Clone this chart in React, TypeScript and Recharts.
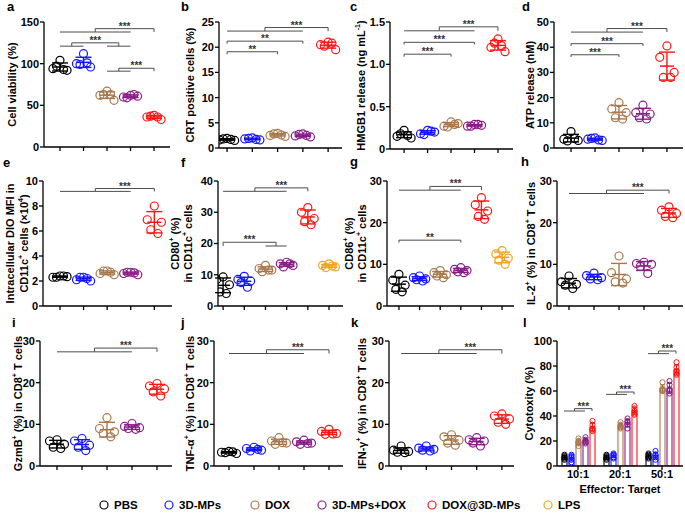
import React from 'react';
import {
  ComposedChart,
  Scatter,
  Bar,
  XAxis,
  YAxis,
  ErrorBar,
  ReferenceLine,
  ReferenceDot,
} from 'recharts';

const FONT = '"Liberation Sans", Arial, Helvetica, sans-serif';

const groupNames = ['PBS', '3D-MPs', 'DOX', '3D-MPs+DOX', 'DOX@3D-MPs', 'LPS'];
const groupColors = ['#000000', '#1414ff', '#a8784c', '#8a1c8a', '#ff1414', '#f5a21e'];

// a: cell viability (%)
const viability = [
  [104, 94, 92, 97, 93],
  [112, 100, 96, 99, 101],
  [67, 62, 56, 63, 63],
  [62, 60, 61, 59, 63],
  [38, 36, 33, 37, 36],
];
// b: CRT positive cells (%)
const crt = [
  [1.9, 1.6, 1.5, 1.8, 1.7],
  [2.0, 1.8, 1.6, 1.9, 1.7],
  [2.9, 2.5, 2.3, 2.8, 2.6],
  [2.8, 2.4, 2.2, 2.7, 2.5],
  [21.0, 20.5, 19.5, 20.2, 20.8],
];
// c: HMGB1 release (ng/mL)
const hmgb1 = [
  [0.22, 0.15, 0.13, 0.18, 0.16],
  [0.22, 0.18, 0.2, 0.17, 0.21],
  [0.32, 0.27, 0.3, 0.26, 0.29],
  [0.29, 0.27, 0.28, 0.27, 0.29],
  [1.3, 1.2, 1.15, 1.25, 1.22],
];
// d: ATP release (nM)
const atp = [
  [6.5, 3.5, 3.0, 2.8, 3.8],
  [4.0, 3.5, 3.0, 3.8, 3.2],
  [18, 15.5, 14, 12, 11.5],
  [17, 14, 13.5, 12, 11.5],
  [40.5, 36, 30, 28, 28],
];
// e: intracellular DIO MFI (x10^4)
const dioMfi = [
  [2.4, 2.3, 2.35, 2.3, 2.4],
  [2.3, 2.1, 2.0, 2.3, 2.2],
  [2.8, 2.6, 2.5, 2.8, 2.7],
  [2.7, 2.6, 2.5, 2.7, 2.65],
  [8.0, 6.9, 6.7, 6.1, 5.8],
];
// f: CD80+ in CD11c+ cells (%)
const cd80 = [
  [9.3, 8.5, 6.8, 4.5, 4.0],
  [9.5, 8.5, 8.0, 7.5, 6.0],
  [13, 12, 11.5, 11, 11.5],
  [14, 13.5, 13, 12.5, 13.5],
  [31.5, 30, 28, 27, 26],
  [13.5, 13, 12.5, 12.3, 12.8],
];
// g: CD86+ in CD11c+ cells (%)
const cd86 = [
  [7.6, 6.2, 5.0, 4.0, 3.4],
  [7.2, 6.8, 6.5, 6.3, 6.0],
  [8.5, 8.0, 7.5, 7.2, 6.8],
  [9.2, 8.8, 8.5, 8.2, 8.0],
  [26, 24.3, 22.8, 21.5, 20.8],
  [13.3, 12.5, 11.5, 11.0, 10.0],
];
// h: IL-2+ in CD8+ T cells (%)
const il2 = [
  [7.2, 5.8, 5.2, 5.0, 4.2],
  [7.9, 7.3, 6.8, 6.5, 6.3],
  [12, 8, 6.5, 5.8, 5.5],
  [10.5, 10.2, 10, 9.5, 7.8],
  [23.8, 23, 22.2, 21.5, 21.2],
];
// i: GzmB+ in CD8+ T cells (%)
const gzmb = [
  [6.3, 6.0, 5.2, 4.5, 4.2],
  [6.6, 6.0, 5.0, 4.5, 3.7],
  [11.6, 9, 8.2, 7.8, 7.0],
  [10.2, 9.5, 9.2, 9.0, 8.8],
  [19.8, 19.2, 18.5, 17.8, 16.8],
];
// j: TNF-a+ in CD8+ T cells (%)
const tnfa = [
  [3.5, 3.3, 3.0, 3.2, 3.4],
  [4.5, 4.2, 3.8, 3.6, 4.0],
  [6.8, 6.0, 5.5, 5.2, 5.6],
  [6.2, 5.8, 5.5, 5.2, 5.4],
  [8.8, 8.3, 7.8, 7.6, 7.7],
];
// k: IFN-g+ in CD8+ T cells (%)
const ifng = [
  [4.8, 3.8, 3.5, 3.3, 3.2],
  [4.8, 4.3, 4.0, 3.8, 3.6],
  [7.5, 7.0, 6.2, 5.5, 5.0],
  [6.8, 6.3, 6.0, 5.5, 4.8],
  [12.5, 12.0, 11.3, 10.5, 10.0],
];
// l: cytotoxicity (%) per effector:target ratio
const cytoRatios = ['10:1', '20:1', '50:1'];
const cytoPBS = [[9, 7, 5, 6, 8], [9, 7, 5, 6, 8], [10, 9, 7, 6, 8]];
const cyto3DMPs = [[9, 7, 3, 5, 8], [10, 9, 7, 6, 9], [12, 9, 7, 5, 9]];
const cytoDOX = [[22, 20, 18, 16, 19], [35, 33, 31, 30, 32], [67, 62, 60, 60, 61]];
const cytoCombo = [[23, 21, 19, 18, 20], [38, 36, 33, 30, 35], [68, 65, 61, 58, 60]];
const cytoDOX3D = [[36, 33, 30, 29, 28], [48, 46, 44, 42, 41], [83, 79, 76, 74, 73]];
const cytoGroups = [cytoPBS, cyto3DMPs, cytoDOX, cytoCombo, cytoDOX3D];

type Bracket = { l: [number, number]; r: [number, number]; lo: number; hi: number; s: string };

const bracketsA: Bracket[] = [
  { l: [1, 4], r: [5, 5], lo: 138, hi: 142, s: '***' },
  { l: [1, 2], r: [3, 4], lo: 121, hi: 125, s: '***' },
  { l: [3, 4], r: [5, 5], lo: 91, hi: 94.5, s: '***' },
];
const bracketsB: Bracket[] = [
  { l: [1, 1], r: [3, 3], lo: 18.6, hi: 19.1, s: '**' },
  { l: [1, 1], r: [4, 4], lo: 20.7, hi: 21.2, s: '**' },
  { l: [1, 4], r: [5, 5], lo: 23.2, hi: 23.9, s: '***' },
];
const bracketsC: Bracket[] = [
  { l: [1, 1], r: [3, 3], lo: 1.09, hi: 1.12, s: '***' },
  { l: [1, 1], r: [4, 4], lo: 1.235, hi: 1.26, s: '***' },
  { l: [1, 4], r: [5, 5], lo: 1.396, hi: 1.443, s: '***' },
];
const bracketsD: Bracket[] = [
  { l: [1, 1], r: [3, 3], lo: 36.1, hi: 37, s: '***' },
  { l: [1, 1], r: [4, 4], lo: 40.5, hi: 41.4, s: '***' },
  { l: [1, 4], r: [5, 5], lo: 46, hi: 47.4, s: '***' },
];
const bracketsE: Bracket[] = [{ l: [1, 4], r: [5, 5], lo: 9.17, hi: 9.4, s: '***' }];
const bracketsF: Bracket[] = [
  { l: [1, 4], r: [5, 5], lo: 36.7, hi: 37.8, s: '***' },
  { l: [1, 1], r: [3, 4], lo: 19.2, hi: 20.4, s: '***' },
];
const bracketsG: Bracket[] = [
  { l: [1, 4], r: [5, 5], lo: 27.8, hi: 28.7, s: '***' },
  { l: [1, 1], r: [4, 4], lo: 15.2, hi: 15.8, s: '**' },
];
const bracketsH: Bracket[] = [{ l: [1, 4], r: [5, 5], lo: 27.0, hi: 27.8, s: '***' }];
const bracketsI: Bracket[] = [{ l: [1, 4], r: [5, 5], lo: 27.4, hi: 28.3, s: '***' }];
const bracketsJ: Bracket[] = [{ l: [1, 4], r: [5, 5], lo: 27.0, hi: 27.9, s: '***' }];
const bracketsK: Bracket[] = [{ l: [1, 4], r: [5, 5], lo: 27.0, hi: 27.9, s: '***' }];
const bracketsL: Bracket[] = [
  { l: [0, 3], r: [4, 4], lo: 44, hi: 45.9, s: '***' },
  { l: [0, 3], r: [4, 4], lo: 57.3, hi: 59.2, s: '***' },
  { l: [0, 3], r: [4, 4], lo: 89.9, hi: 92, s: '***' },
];

const mean = (a: number[]) => a.reduce((s, v) => s + v, 0) / a.length;
const sdev = (a: number[]) => {
  const m = mean(a);
  return Math.sqrt(a.reduce((s, v) => s + (v - m) * (v - m), 0) / (a.length - 1));
};

const TOP = 8;
const JITTER = [0, -0.3, 0.3, -0.15, 0.15];
const axisStyle = { stroke: '#000', strokeWidth: 1.3 };
const tickStyle = { fontSize: 11, fontWeight: 'bold', fill: '#000', fontFamily: FONT };

// title lines: parts starting with ^ are superscripts
const renderTitle = (lines: string[][], xs: number[], cy: number) => (
  <g>
    {lines.map((parts, i) => (
      <text
        key={i}
        transform={`translate(${xs[i]},${cy}) rotate(-90)`}
        textAnchor="middle"
        dominantBaseline="central"
        fontSize={11}
        fontWeight="bold"
        fontFamily={FONT}
        fill="#000"
      >
        {parts.map((p, j) =>
          p.startsWith('^') ? (
            <tspan key={j} baselineShift="super" fontSize={7}>
              {p.slice(1)}
            </tspan>
          ) : (
            <tspan key={j}>{p}</tspan>
          ),
        )}
      </text>
    ))}
  </g>
);

const starLabel = (s: string) => (props: any) => {
  const vb = props.viewBox || {};
  const cx = vb.cx ?? vb.x + (vb.width || 0) / 2;
  const cy = vb.cy ?? vb.y + (vb.height || 0) / 2;
  return (
    <text x={cx} y={cy + 1} textAnchor="middle" fontSize={10} fontWeight="bold" fill="#333" fontFamily={FONT}>
      {s}
    </text>
  );
};

const bracketMarks = (b: Bracket, key: string, xAt: (v: number) => number) => {
  const l0 = xAt(b.l[0]);
  const l1 = xAt(b.l[1]);
  const r0 = xAt(b.r[0]);
  const r1 = xAt(b.r[1]);
  const lm = (l0 + l1) / 2;
  const rm = (r0 + r1) / 2;
  const segs: number[][] = [];
  if (l0 !== l1) segs.push([l0, b.lo, l1, b.lo]);
  segs.push([lm, b.lo, lm, b.hi], [lm, b.hi, rm, b.hi], [rm, b.hi, rm, b.lo]);
  if (r0 !== r1) segs.push([r0, b.lo, r1, b.lo]);
  return [
    ...segs.map((s, i) => (
      <ReferenceLine
        key={`${key}-${i}`}
        segment={[
          { x: s[0], y: s[1] },
          { x: s[2], y: s[3] },
        ]}
        stroke="#4d4d4d"
        strokeWidth={1}
        ifOverflow="visible"
      />
    )),
    <ReferenceDot
      key={`${key}-s`}
      x={(lm + rm) / 2}
      y={b.hi}
      r={1}
      fill="none"
      stroke="none"
      ifOverflow="visible"
      label={{ content: starLabel(b.s) }}
    />,
  ];
};

interface PanelSpec {
  left: number;
  x0: number;
  x1: number;
  yT: number;
  yB: number;
  xDomain: [number, number];
  yDomain: [number, number];
  yTicks: number[];
  groups: number[][];
  brackets: Bracket[];
  title: string[][];
  titleX: number[];
  fmt?: (v: number) => string;
}

const DotPanel = ({ p }: { p: PanelSpec }) => {
  const plotH = p.yB - p.yT;
  const width = p.x1 - p.left;
  const height = plotH + TOP + 12;
  const cy = TOP + plotH / 2;
  return (
    <div style={{ position: 'absolute', left: p.left, top: p.yT - TOP }}>
      <ComposedChart width={width} height={height} margin={{ top: TOP, right: 0, bottom: 0, left: 0 }}>
        <XAxis
          type="number"
          dataKey="x"
          domain={p.xDomain}
          ticks={p.groups.map((_, i) => i + 1)}
          tickFormatter={() => ''}
          tickSize={4}
          height={12}
          allowDataOverflow
          axisLine={axisStyle}
          tickLine={axisStyle}
        />
        <YAxis
          type="number"
          dataKey="y"
          domain={p.yDomain}
          ticks={p.yTicks}
          interval={0}
          tickFormatter={p.fmt}
          allowDataOverflow
          width={p.x0 - p.left}
          tickSize={4}
          tickMargin={1}
          tick={tickStyle}
          axisLine={axisStyle}
          tickLine={axisStyle}
          label={{ content: () => renderTitle(p.title, p.titleX.map((x) => x - p.left), cy) }}
        />
        {p.groups.map((vals, g) => (
          <Scatter
            key={`pts-${g}`}
            data={vals.map((v, i) => ({ x: g + 1 + JITTER[i % JITTER.length], y: v }))}
            isAnimationActive={false}
            shape={(props: any) => (
              <circle cx={props.cx} cy={props.cy} r={4} fill="none" stroke={groupColors[g]} strokeWidth={1.2} />
            )}
          />
        ))}
        {p.groups.map((vals, g) => (
          <Scatter
            key={`mean-${g}`}
            data={[{ x: g + 1, y: mean(vals), sd: sdev(vals) }]}
            isAnimationActive={false}
            shape={(props: any) => (
              <line
                x1={props.cx - 7}
                x2={props.cx + 7}
                y1={props.cy}
                y2={props.cy}
                stroke={groupColors[g]}
                strokeWidth={1.5}
              />
            )}
          >
            <ErrorBar dataKey="sd" direction="y" width={8} stroke={groupColors[g]} strokeWidth={1.4} />
          </Scatter>
        ))}
        {p.brackets.flatMap((b, i) => bracketMarks(b, `b${i}`, (v) => v))}
      </ComposedChart>
    </div>
  );
};

const panels: PanelSpec[] = [
  {
    left: 0, x0: 44, x1: 170, yT: 22, yB: 147, xDomain: [0.32, 5.68], yDomain: [0, 150],
    yTicks: [0, 50, 100, 150], groups: viability, brackets: bracketsA,
    title: [['Cell viability (%)']], titleX: [12],
  },
  {
    left: 170, x0: 219, x1: 342, yT: 22, yB: 148, xDomain: [0.68, 5.55], yDomain: [0, 25],
    yTicks: [0, 5, 10, 15, 20, 25], groups: crt, brackets: bracketsB,
    title: [['CRT positive cells (%)']], titleX: [190],
  },
  {
    left: 340, x0: 390, x1: 513, yT: 22, yB: 149, xDomain: [0.4, 5.64], yDomain: [0, 1.5],
    yTicks: [0, 0.5, 1, 1.5], groups: hmgb1, brackets: bracketsC,
    title: [['HMGB1 release (ng mL', '^-1', ')']], titleX: [361],
    fmt: (v) => (v === 0 ? '0' : v.toFixed(1)),
  },
  {
    left: 510, x0: 554, x1: 683, yT: 22, yB: 148, xDomain: [0.29, 5.67], yDomain: [0, 50],
    yTicks: [0, 10, 20, 30, 40, 50], groups: atp, brackets: bracketsD,
    title: [['ATP release (nM)']], titleX: [530],
  },
  {
    left: 0, x0: 43, x1: 172, yT: 181, yB: 306, xDomain: [0.28, 5.75], yDomain: [0, 10],
    yTicks: [0, 2, 4, 6, 8, 10], groups: dioMfi, brackets: bracketsE,
    title: [['Intracellular DIO MFI in'], ['CD11c', '^+', ' cells (\u00d710', '^4', ')']], titleX: [10, 24],
  },
  {
    left: 162, x0: 218, x1: 343, yT: 181, yB: 306, xDomain: [0.76, 6.66], yDomain: [0, 40],
    yTicks: [0, 10, 20, 30, 40], groups: cd80, brackets: bracketsF,
    title: [['CD80', '^+', ' (%)'], ['in CD11c', '^+', ' cells']], titleX: [175, 188],
  },
  {
    left: 336, x0: 387, x1: 514, yT: 181, yB: 306, xDomain: [0.42, 6.58], yDomain: [0, 30],
    yTicks: [0, 10, 20, 30], groups: cd86, brackets: bracketsG,
    title: [['CD86', '^+', ' (%)'], ['in CD11c', '^+', ' cells']], titleX: [349, 362],
  },
  {
    left: 510, x0: 557, x1: 683, yT: 181, yB: 306, xDomain: [0.52, 5.56], yDomain: [0, 30],
    yTicks: [0, 10, 20, 30], groups: il2, brackets: bracketsH,
    title: [['IL-2', '^+', ' (%) in CD8', '^+', ' T cells']], titleX: [531],
  },
  {
    left: 0, x0: 40, x1: 172, yT: 341, yB: 466, xDomain: [0.32, 5.6], yDomain: [0, 30],
    yTicks: [0, 10, 20, 30], groups: gzmb, brackets: bracketsI,
    title: [['GzmB', '^+', ' (%) in CD8', '^+', ' T cells']], titleX: [18],
  },
  {
    left: 170, x0: 214, x1: 343, yT: 341, yB: 466, xDomain: [0.4, 5.56], yDomain: [0, 30],
    yTicks: [0, 10, 20, 30], groups: tnfa, brackets: bracketsJ,
    title: [['TNF-\u03b1', '^+', ' (%) in CD8', '^+', ' T cells']], titleX: [190],
  },
  {
    left: 340, x0: 389, x1: 514, yT: 341, yB: 466, xDomain: [0.52, 5.48], yDomain: [0, 30],
    yTicks: [0, 10, 20, 30], groups: ifng, brackets: bracketsK,
    title: [['IFN-\u03b3', '^+', ' (%) in CD8', '^+', ' T cells']], titleX: [362],
  },
];

// panel l: hollow bars with points, on a numeric x axis so brackets can sit between bars
const L = { left: 510, x0: 557, x1: 683, yT: 341, yB: 466 };
const BAR_W = 5;
const BAR_GAP = 2;
const bandPx = (L.x1 - L.x0) / cytoRatios.length;
const barStep = (BAR_W + BAR_GAP) / bandPx;

const cytoRows = cytoRatios.map((ratio, i) => {
  const row: Record<string, any> = { ratio, pos: i + 0.5 };
  cytoGroups.forEach((arr, g) => {
    row[`m${g}`] = mean(arr[i]);
  });
  return row;
});

const CytoBar = (g: number) => (props: any) => {
  const { x, y, width, height, payload } = props;
  const i = cytoRatios.indexOf(payload.ratio);
  const vals = cytoGroups[g][i];
  const m = mean(vals);
  const s = sdev(vals);
  const ppu = height / m;
  const base = y + height;
  const cx = x + width / 2;
  const c = groupColors[g];
  return (
    <g>
      <rect x={x} y={y} width={width} height={height} fill="none" stroke={c} strokeWidth={1.1} />
      {vals.map((v, k) => (
        <circle key={k} cx={cx} cy={base - v * ppu} r={2.6} fill="none" stroke={c} strokeWidth={1} />
      ))}
      <line x1={cx} x2={cx} y1={base - (m + s) * ppu} y2={base - (m - s) * ppu} stroke={c} strokeWidth={1.1} />
      <line x1={cx - 2.5} x2={cx + 2.5} y1={base - (m + s) * ppu} y2={base - (m + s) * ppu} stroke={c} strokeWidth={1.1} />
      <line x1={cx - 2.5} x2={cx + 2.5} y1={base - (m - s) * ppu} y2={base - (m - s) * ppu} stroke={c} strokeWidth={1.1} />
    </g>
  );
};

const CytoPanel = () => {
  const plotH = L.yB - L.yT;
  const width = L.x1 - L.left;
  const height = plotH + TOP + 28;
  const cy = TOP + plotH / 2;
  return (
    <div style={{ position: 'absolute', left: L.left, top: L.yT - TOP }}>
      <ComposedChart
        width={width}
        height={height}
        data={cytoRows}
        margin={{ top: TOP, right: 0, bottom: 0, left: 0 }}
        barSize={BAR_W}
        barGap={BAR_GAP}
      >
        <XAxis
          type="number"
          dataKey="pos"
          domain={[0, cytoRatios.length]}
          ticks={cytoRatios.map((_, i) => i + 0.5)}
          tickFormatter={(v: number) => cytoRatios[Math.floor(v)]}
          allowDataOverflow
          tickSize={4}
          tickMargin={0}
          height={28}
          tick={tickStyle}
          axisLine={axisStyle}
          tickLine={axisStyle}
          label={{ value: 'Effector: Target', position: 'insideBottom', offset: 1, fill: '#000', fontSize: 11, fontWeight: 'bold', fontFamily: FONT }}
        />
        <YAxis
          type="number"
          domain={[0, 100]}
          ticks={[0, 20, 40, 60, 80, 100]}
          interval={0}
          allowDataOverflow
          width={L.x0 - L.left}
          tickSize={4}
          tickMargin={1}
          tick={tickStyle}
          axisLine={axisStyle}
          tickLine={axisStyle}
          label={{ content: () => renderTitle([['Cytotoxity (%)']], [529 - L.left], cy) }}
        />
        {cytoGroups.map((_, g) => (
          <Bar key={g} dataKey={`m${g}`} isAnimationActive={false} shape={CytoBar(g)} />
        ))}
        {bracketsL.flatMap((b, i) => bracketMarks(b, `l${i}`, (k) => i + 0.5 + (k - 2) * barStep))}
      </ComposedChart>
    </div>
  );
};

const letters = [
  { t: 'a', x: 7, y: 11 },
  { t: 'b', x: 181, y: 11 },
  { t: 'c', x: 350, y: 11 },
  { t: 'd', x: 522, y: 11 },
  { t: 'e', x: 3, y: 167 },
  { t: 'f', x: 181, y: 167 },
  { t: 'g', x: 350, y: 166 },
  { t: 'h', x: 521, y: 166 },
  { t: 'i', x: 12, y: 327 },
  { t: 'j', x: 181, y: 327 },
  { t: 'k', x: 351, y: 327 },
  { t: 'l', x: 523, y: 327 },
];

const legendX = [104, 169, 255, 322, 432, 548];
const LEGEND_Y = 505;

export default function App() {
  return (
    <div style={{ position: 'absolute', left: 0, top: 0, width: 685, height: 514, background: '#fff', fontFamily: FONT }}>
      <svg width={685} height={514} style={{ position: 'absolute', left: 0, top: 0 }}>
        {letters.map((l) => (
          <text key={l.t} x={l.x} y={l.y} fontSize={13} fontWeight="bold" fontFamily={FONT} fill="#000">
            {l.t}
          </text>
        ))}
        {groupNames.map((name, g) => (
          <g key={name}>
            <circle cx={legendX[g]} cy={LEGEND_Y} r={4} fill="none" stroke={groupColors[g]} strokeWidth={1.2} />
            <text x={legendX[g] + 10} y={LEGEND_Y + 4} fontSize={11.5} fontWeight="bold" fontFamily={FONT} fill="#000">
              {name}
            </text>
          </g>
        ))}
      </svg>
      {panels.map((p, i) => (
        <DotPanel key={i} p={p} />
      ))}
      <CytoPanel />
    </div>
  );
}
